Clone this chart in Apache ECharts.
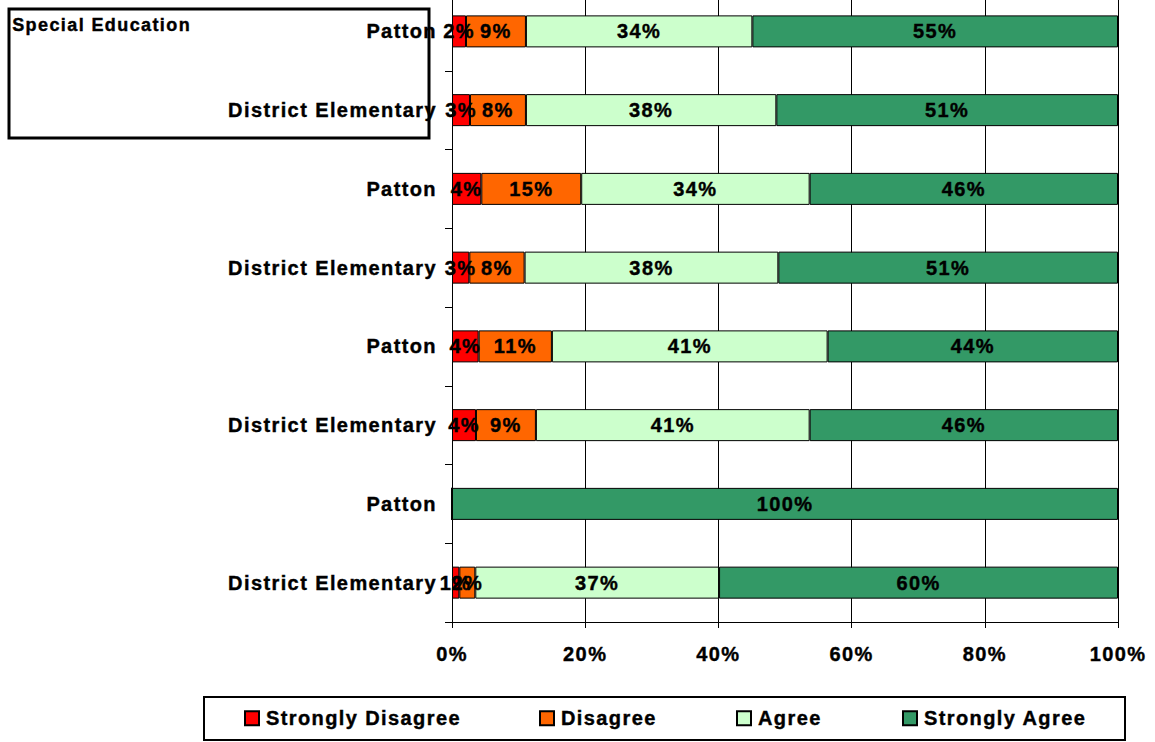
<!DOCTYPE html>
<html>
<head>
<meta charset="utf-8">
<script src="https://cdn.jsdelivr.net/npm/echarts@6/dist/echarts.min.js"></script>
<style>
  html, body { margin: 0; padding: 0; background: #fff; overflow: hidden; }
  #chart { width: 1155px; height: 750px; margin-top: -8px; }
  #chart text { letter-spacing: 1.4px; }
</style>
</head>
<body>
<div id="chart"></div>
<script>
const categories = ['Patton', 'District Elementary', 'Patton', 'District Elementary', 'Patton', 'District Elementary', 'Patton', 'District Elementary'];
const seriesNames = ['Strongly Disagree', 'Disagree', 'Agree', 'Strongly Agree'];
const stronglyDisagree = [2.1, 2.7, 4.4, 2.6, 4.0, 3.6, 0, 1.1];
const disagree = [9.0, 8.4, 15.0, 8.3, 11.0, 9.0, 0, 2.4];
const agree = [34.0, 37.6, 34.3, 38.1, 41.4, 41.1, 0, 36.6];
const stronglyAgree = [54.9, 51.3, 46.3, 51.0, 43.6, 46.3, 100, 59.9];
const xTicks = [0, 20, 40, 60, 80, 100];
const titleText = 'Special Education';

const colors = ['#FF0000', '#FF6600', '#CCFFCC', '#339966'];
const values = [stronglyDisagree, disagree, agree, stronglyAgree];
const FONT = '"Liberation Sans", Arial, sans-serif';
const OFF = 8; // container is shifted up by 8px
const HEAVY = { textBorderColor: '#000', textBorderWidth: 0.4 };

const chart = echarts.init(document.getElementById('chart'), null, { renderer: 'svg' });

const legendLefts = [244, 539, 736, 902];

const option = {
  animation: false,
  backgroundColor: '#ffffff',
  grid: { left: 452, right: 37, top: 0, bottom: 120, containLabel: false },
  xAxis: {
    type: 'value',
    min: xTicks[0],
    max: xTicks[xTicks.length - 1],
    interval: 20,
    axisLine: { show: true, lineStyle: { color: '#000', width: 1 } },
    axisTick: { show: true, length: 6, lineStyle: { color: '#000', width: 1 } },
    splitLine: { show: true, lineStyle: { color: '#000', width: 1 } },
    axisLabel: Object.assign({
      margin: 22,
      formatter: v => v + '%',
      color: '#000',
      fontFamily: FONT,
      fontWeight: 'bold',
      fontSize: 20
    }, HEAVY)
  },
  yAxis: {
    type: 'category',
    data: categories,
    inverse: true,
    axisLine: { show: true, lineStyle: { color: '#000', width: 1 } },
    axisTick: { show: true, length: 7, lineStyle: { color: '#000', width: 1 } },
    splitLine: { show: false },
    axisLabel: Object.assign({
      interval: 0,
      margin: 15,
      color: '#000',
      fontFamily: FONT,
      fontWeight: 'bold',
      fontSize: 20
    }, HEAVY)
  },
  legend: seriesNames.map((name, i) => ({
    data: [name],
    left: legendLefts[i],
    top: 711 + OFF - 3,
    padding: 0,
    icon: 'rect',
    itemWidth: 14,
    itemHeight: 14,
    itemGap: 0,
    selectedMode: false,
    textStyle: Object.assign({ color: '#000', fontFamily: FONT, fontWeight: 'bold', fontSize: 20, padding: [0, 0, 0, 2] }, HEAVY)
  })),
  graphic: [
    {
      type: 'rect',
      z: 100,
      shape: { x: 204, y: 697 + OFF, width: 921, height: 43 },
      style: { fill: 'none', stroke: '#000', lineWidth: 2 }
    },
    {
      type: 'rect',
      z: 100,
      shape: { x: 9, y: 9 + OFF, width: 420, height: 129 },
      style: { fill: 'none', stroke: '#000', lineWidth: 3 }
    },
    {
      type: 'text',
      z: 100,
      left: 12,
      top: 16 + OFF,
      style: { text: titleText, fill: '#000', stroke: '#000', lineWidth: 0.4, font: 'bold 18px ' + FONT }
    }
  ],
  series: seriesNames.map((name, i) => ({
    name: name,
    type: 'bar',
    stack: 'total',
    barWidth: 32,
    data: values[i],
    itemStyle: { color: colors[i], borderColor: '#000', borderWidth: 1 },
    label: Object.assign({
      show: true,
      position: 'inside',
      color: '#000',
      fontFamily: FONT,
      fontWeight: 'bold',
      fontSize: 20,
      formatter: p => (p.value > 0 ? Math.round(p.value) + '%' : '')
    }, HEAVY),
    emphasis: { disabled: true }
  }))
};

chart.setOption(option);
</script>
</body>
</html>
